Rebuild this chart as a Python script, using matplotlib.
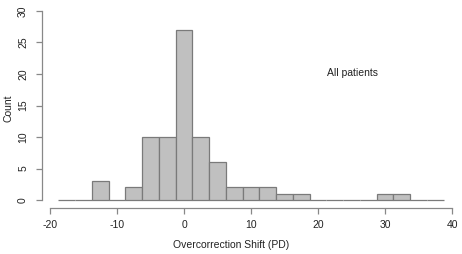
import matplotlib
matplotlib.use("Agg")
import matplotlib.pyplot as plt

# Overcorrection shift histogram (bin width 2.5 PD)
bin_centers = [-17.5, -15, -12.5, -10, -7.5, -5, -2.5, 0, 2.5, 5, 7.5, 10, 12.5,
               15, 17.5, 20, 22.5, 25, 27.5, 30, 32.5, 35, 37.5]
counts = [0, 0, 3, 0, 2, 10, 10, 27, 10, 6, 2, 2, 2,
          1, 1, 0, 0, 0, 0, 1, 1, 0, 0]
x_ticks = [-20, -10, 0, 10, 20, 30, 40]
y_ticks = [0, 5, 10, 15, 20, 25, 30]

plt.rcParams["font.family"] = ["Liberation Sans", "DejaVu Sans"]
plt.rcParams["axes.unicode_minus"] = False

W, H = 462, 254
fig = plt.figure(figsize=(W / 100, H / 100), dpi=100)
# axes box in pixels: left 42, right 452, top 3.4, bottom 207.6
ax = fig.add_axes([42 / W, (H - 207.6) / H, (452 - 42) / W, (207.6 - 3.4) / H])

ax.bar(bin_centers, counts, width=2.5, color="#c0c0c0", edgecolor="#7a7a7a",
       linewidth=0.9)

ax.set_xlim(-21.2, 40)
ax.set_ylim(-1.2, 31.2)

for s in ["top", "right"]:
    ax.spines[s].set_visible(False)
ax.spines["left"].set_bounds(0, 30)
ax.spines["bottom"].set_bounds(-20, 40)
for s in ["left", "bottom"]:
    ax.spines[s].set_color("#888888")
    ax.spines[s].set_linewidth(0.9)

ax.set_xticks(x_ticks)
ax.set_yticks(y_ticks)
ax.tick_params(axis="both", length=4, width=0.9, color="#888888",
               labelsize=7.5, labelcolor="#222222")
ax.tick_params(axis="x", pad=5)
ax.tick_params(axis="y", pad=6)
for lab in ax.get_yticklabels():
    lab.set_rotation(90)
    lab.set_va("center")

ax.set_xlabel("Overcorrection Shift (PD)", fontsize=7.5, color="#222222", va="center")
ax.set_ylabel("Count", fontsize=7.5, color="#222222", va="center")
ax.xaxis.set_label_coords((231 - 42) / 410, (207.6 - 245) / 204.2)
ax.yaxis.set_label_coords((9 - 42) / 410, (207.6 - 108) / 204.2)

ax.text(25.1, 20.2, "All patients", fontsize=7.5, color="#222222",
        ha="center", va="center")

fig.savefig("out.png", dpi=100)
